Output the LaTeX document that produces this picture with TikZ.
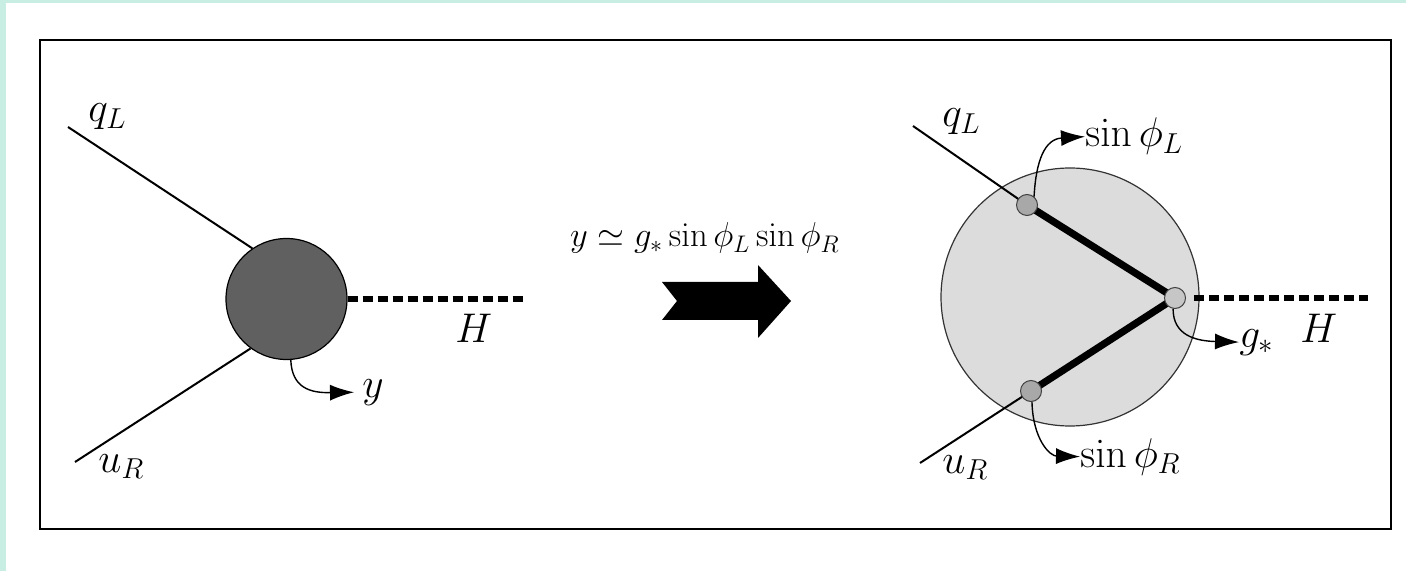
\documentclass[tikz,border=0pt]{standalone}
\usetikzlibrary{arrows.meta}
\pgfdeclarelayer{back}
\pgfdeclarelayer{mid}
\pgfsetlayers{back,mid,main}
\definecolor{cyanband}{RGB}{200,238,228}
\definecolor{blobgray}{RGB}{96,96,96}
\definecolor{softgray}{RGB}{220,220,220}
\definecolor{dotgray}{RGB}{168,168,168}
\definecolor{dotlight}{RGB}{198,198,198}
\begin{document}
\begin{tikzpicture}[x=0.5pt,y=-0.5pt,
  lab/.style={inner sep=0pt, anchor=base west, font=\fontsize{20.74}{25}\selectfont},
  quark/.style={line width=1pt},
  higgs/.style={line width=3.2pt, dash pattern=on 5pt off 2.5pt},
  strong/.style={line width=3.6pt},
  pointer/.style={line width=0.7pt, -{Latex[length=12pt,width=8pt]}},
  vertex/.style={circle, draw=black!75, line width=0.5pt, minimum size=10.5pt, inner sep=0pt},
]
\useasboundingbox (0,0) rectangle (1406,571);
\begin{pgfonlayer}{back}
  \fill[white] (0,0) rectangle (1406,571);
  \fill[cyanband] (0,0) rectangle (1406,3);
  \fill[cyanband] (0,0) rectangle (6,571);
  \draw[line width=1.3pt] (40,40) rectangle (1391,529);
  \node[circle, draw=black!80, line width=0.6pt, fill=softgray, minimum size=129pt, inner sep=0pt] (core) at (1070,297) {};
\end{pgfonlayer}

% ---------- left diagram ----------
\node[circle, draw=black, line width=0.6pt, fill=blobgray, minimum size=60.5pt, inner sep=0pt] (blob) at (286.5,299) {};
\coordinate (qLa) at (68,127);
\coordinate (uRa) at (75,462);
\coordinate (Ha) at (523,299);
\node[lab] (qLl) at (88,122) {$q_L$};
\node[lab] (uRl) at (98,472) {$u_R$};
\node[lab] (Hl) at (455,343) {$H$};
\node[lab] (yl) at (362,397) {$y$};
\begin{pgfonlayer}{mid}
  \draw[quark] (qLa) -- (blob.124);
  \draw[quark] (uRa) -- (blob.234);
\end{pgfonlayer}
\draw[higgs] (blob.east) -- (Ha);
\draw[pointer, shorten >=4pt] (blob.274) .. controls (292,388) and (310,393) .. (yl.west);

% ---------- middle ----------
\node[font=\fontsize{17.28}{21}\selectfont, inner sep=0pt, anchor=base] (rel) at (705,247) {$y \simeq g_* \sin\phi_L \sin\phi_R$};
\fill (662,282) -- (677,301) -- (662,320) -- (758,320) -- (758,338) -- (791,301) -- (758,265) -- (758,282) -- cycle;

% ---------- right diagram ----------
\node[vertex, fill=dotgray] (tL) at (1027,205) {};
\node[vertex, fill=dotlight] (gs) at (1175,298) {};
\node[vertex, fill=dotgray] (bR) at (1031,391) {};
\coordinate (qLb) at (913,126);
\coordinate (uRb) at (920,463);
\coordinate (Hb) at (1368,298);
\node[lab] (qLr) at (942,127) {$q_L$};
\node[lab] (uRr) at (942,473) {$u_R$};
\node[lab] (Hr) at (1300,343) {$H$};
\node[lab] (gl) at (1239,347) {$g_*$};
\node[lab] (sL) at (1085,147) {$\sin\phi_L$};
\node[lab] (sR) at (1080,467) {$\sin\phi_R$};
\begin{pgfonlayer}{mid}
  \draw[strong] (tL.center) -- (gs.center);
  \draw[strong] (bR.center) -- (gs.center);
  \draw[quark] (qLb) -- (tL.center);
  \draw[quark] (uRb) -- (bR.center);
\end{pgfonlayer}
\draw[higgs] (gs.east) ++(8,0) -- (Hb);
\draw[pointer] (tL.50) .. controls (1036,160) and (1045,139) .. (sL.west);
\draw[pointer] (gs.260) .. controls (1173,335) and (1195,341) .. (gl.west);
\draw[pointer] (bR.275) .. controls (1033,440) and (1050,456) .. (sR.west);
\end{tikzpicture}
\end{document}
